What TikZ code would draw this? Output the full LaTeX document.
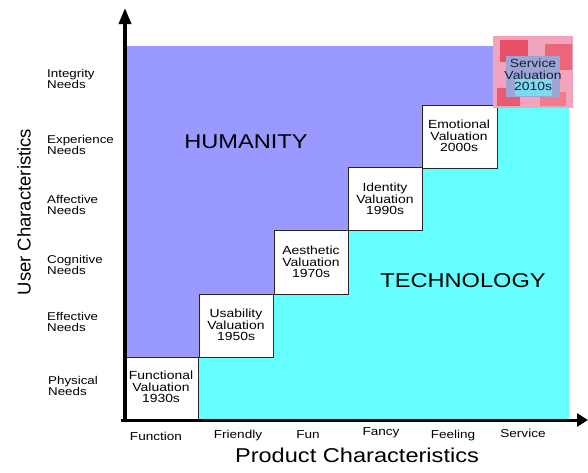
\documentclass[tikz,border=0pt]{standalone}
\usepackage{fontspec}
\setmainfont{Liberation Sans}[FakeStretch=1.18]
\newfontfamily\rotfont{Liberation Sans}
\usetikzlibrary{arrows.meta}
\definecolor{humanity}{HTML}{9999FF}
\definecolor{techno}{HTML}{66FFFF}
\definecolor{svcpink}{HTML}{F2A4BC}
\definecolor{svcred}{HTML}{E4233F}
\definecolor{svcmid}{HTML}{9CA6D6}
\tikzset{
  valbox/.style={draw=black!85, line width=0.9pt, fill=white},
  valtext/.style={align=center, font=\fontsize{11.8}{11.7}\selectfont, inner sep=0pt},
  needtext/.style={align=left, anchor=west, font=\fontsize{11.3}{11.3}\selectfont, inner sep=0pt},
  prodtext/.style={font=\fontsize{11.5}{12}\selectfont, inner sep=0pt},
  bigtext/.style={font=\fontsize{20}{22}\selectfont, inner sep=0pt},
  axisline/.style={line width=3.5pt, -{Triangle[length=16pt,width=12pt]}},
}
\begin{document}
\begin{tikzpicture}[x=1pt,y=-1pt]
\useasboundingbox (0,0) rectangle (588,472);
% regions
\fill[humanity] (125,46) -- (496,46) -- (496,105) -- (422,105) -- (422,167) -- (348,167) -- (348,230) -- (274,230) -- (274,294) -- (199,294) -- (199,357) -- (125,357) -- cycle;
\fill[techno] (198,420) -- (198,358) -- (273,358) -- (273,295) -- (349,295) -- (349,231) -- (423,231) -- (423,168) -- (497,168) -- (497,108) -- (569,108) -- (569,420) -- cycle;
% value boxes
\draw[valbox] (123,357) rectangle (198,420);
\draw[valbox] (199,294) rectangle (273,357);
\draw[valbox] (274,230) rectangle (348,294);
\draw[valbox] (348,167) rectangle (422,230);
\draw[valbox] (422,105) rectangle (497,168);
% service box (blurred picture)
\fill[svcpink] (493,36) rectangle (573,108);
\fill[svcred!80] (500,40) rectangle (528,62);
\fill[svcred!70] (545,44) rectangle (572,70);
\fill[svcred!75] (497,88) rectangle (520,106);
\fill[svcred!60] (540,92) rectangle (566,106);
\fill[svcmid] (506,56) rectangle (560,97);
\fill[techno!60!svcmid] (515,78) rectangle (552,96);
% nodes
\node[valtext] (v1) at (161,387) {Functional\\Valuation\\1930s};
\node[valtext] (v2) at (236,325) {Usability\\Valuation\\1950s};
\node[valtext] (v3) at (311,262) {Aesthetic\\Valuation\\1970s};
\node[valtext] (v4) at (385,199) {Identity\\Valuation\\1990s};
\node[valtext] (v5) at (459,136) {Emotional\\Valuation\\2000s};
\node[valtext, text={rgb,255:red,30;green,30;blue,50}] (v6) at (533,75) {Service\\Valuation\\2010s};
\node[bigtext] (hum) at (246,142) {HUMANITY};
\node[bigtext] (tech) at (463,281) {TECHNOLOGY};
% axes
\coordinate (org) at (125,420);
\coordinate (ytip) at (125,8);
\coordinate (xstart) at (121,420);
\coordinate (xtip) at (588,420);
\draw[axisline] (org) -- (ytip);
\draw[axisline, line width=3pt, -{Triangle[length=11pt,width=13pt]}] (xstart) -- (xtip);
% y labels
\node[needtext] (n6) at (47,79) {Integrity\\Needs};
\node[needtext] (n5) at (47,145) {Experience\\Needs};
\node[needtext] (n4) at (47,205) {Affective\\Needs};
\node[needtext] (n3) at (47,265) {Cognitive\\Needs};
\node[needtext] (n2) at (47,322) {Effective\\Needs};
\node[needtext] (n1) at (48,386) {Physical\\Needs};
% x labels
\node[prodtext] (p1) at (156,436) {Function};
\node[prodtext] (p2) at (238,436) {Friendly};
\node[prodtext] (p3) at (308,435) {Fun};
\node[prodtext] (p4) at (381,433) {Fancy};
\node[prodtext] (p5) at (453,436) {Feeling};
\node[prodtext] (p6) at (523,433) {Service};
% axis titles
\node[bigtext] (xt) at (357,455) {Product Characteristics};
\node[rotate=90, inner sep=0pt, font=\rotfont\fontsize{18.5}{20}\selectfont] (yt) at (24,212) {User Characteristics};
\end{tikzpicture}
\end{document}
